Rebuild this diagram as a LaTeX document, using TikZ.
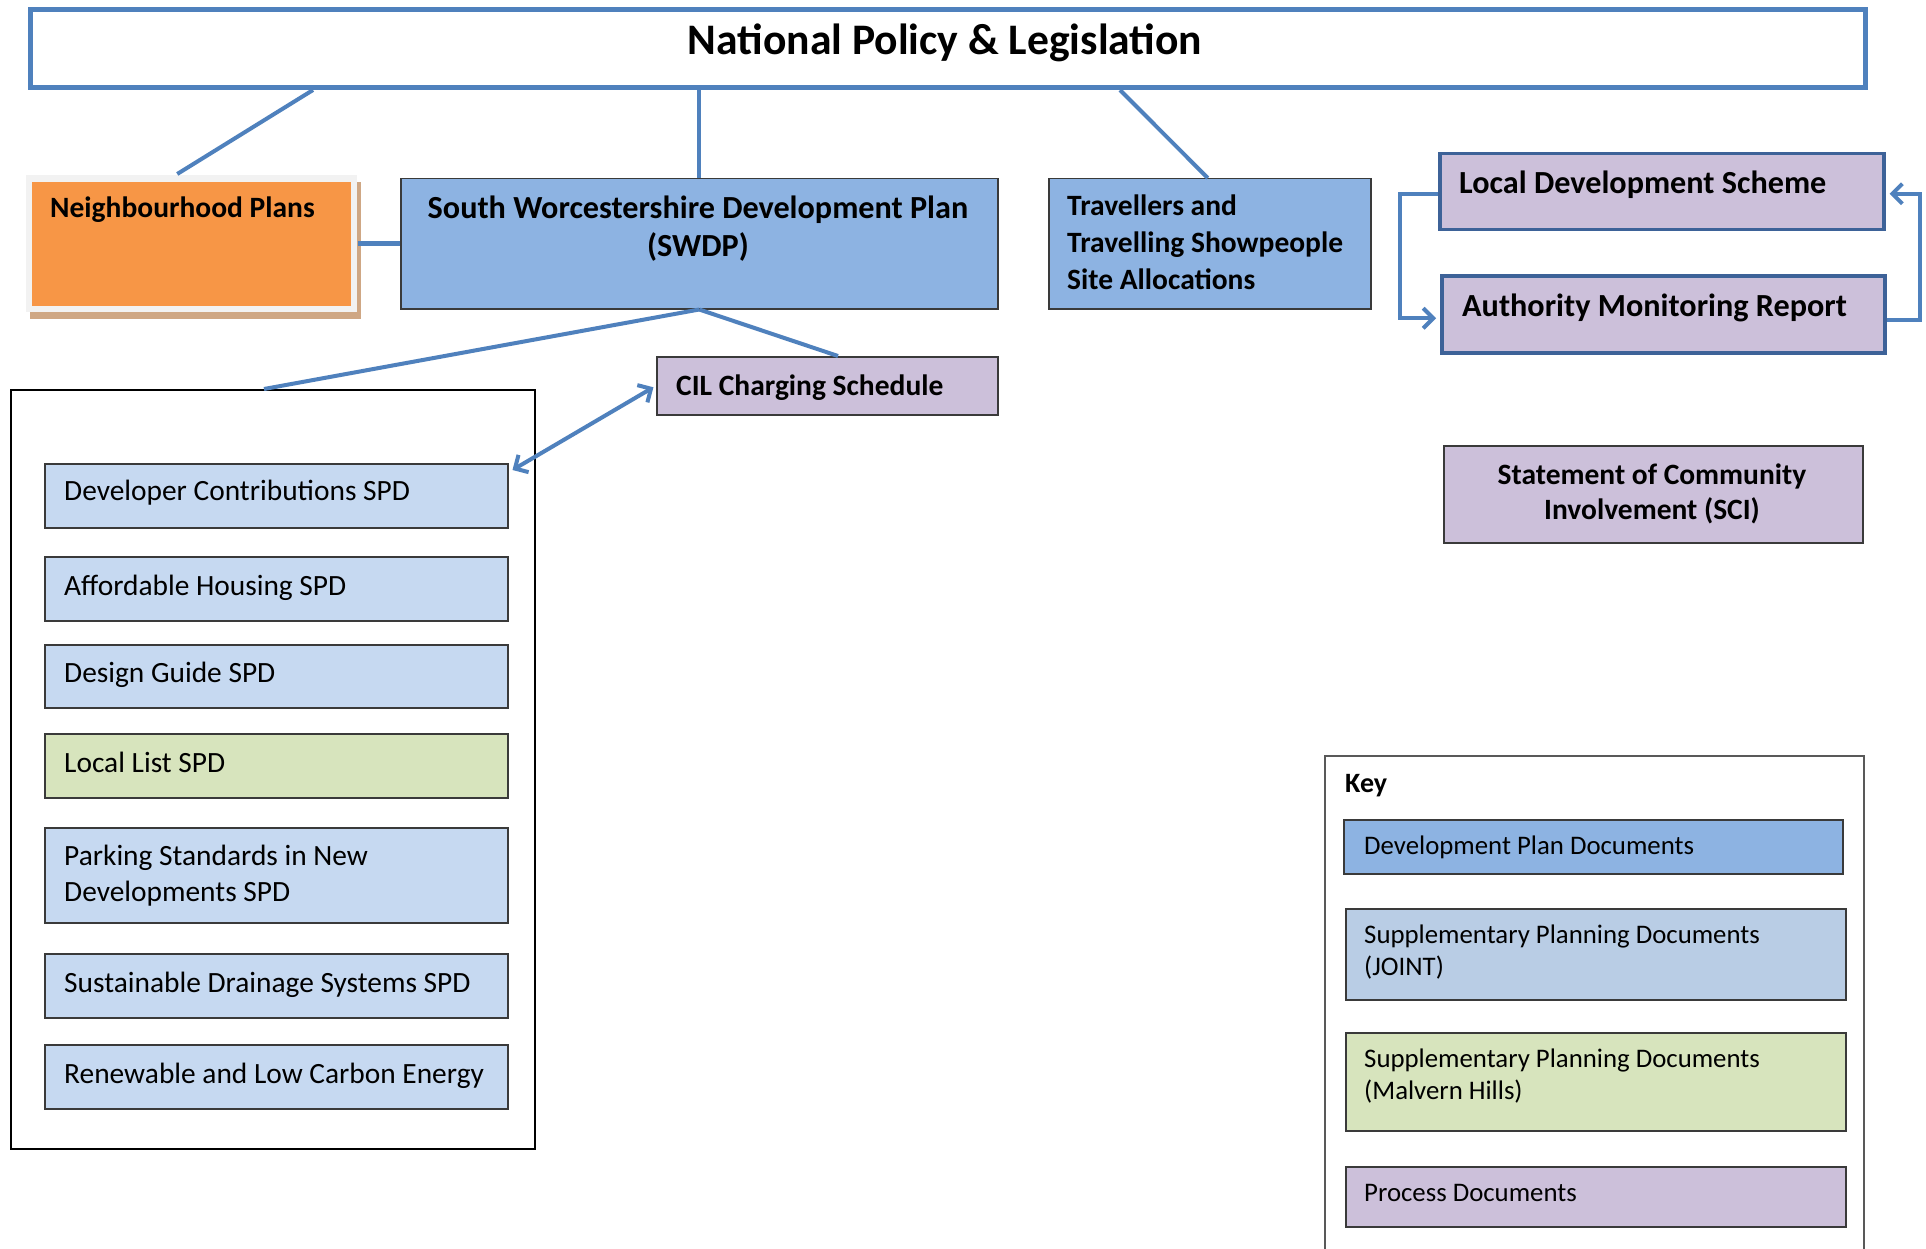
\documentclass[tikz,border=0pt]{standalone}
\usepackage{fontspec}
\setmainfont{Carlito}
\usetikzlibrary{arrows.meta}
\definecolor{lnblue}{HTML}{4F81BD}
\definecolor{dpd}{HTML}{8DB3E2}
\definecolor{spd}{HTML}{C6D9F1}
\definecolor{keyspd}{HTML}{B9CDE5}
\definecolor{grn}{HTML}{D7E4BD}
\definecolor{prp}{HTML}{CCC0DA}
\definecolor{orng}{HTML}{F79646}
\definecolor{bdr}{HTML}{3A3A3A}
\definecolor{ldsb}{HTML}{3D6298}
\definecolor{shad}{HTML}{CFA784}
\definecolor{frm}{HTML}{F2F2F2}
\definecolor{keyb}{HTML}{595959}
\begin{document}
\begin{tikzpicture}[x=1pt,y=-1pt,
  box/.style={draw=bdr, line width=1.5pt, inner sep=0pt, anchor=north west},
  procbox/.style={box, draw=ldsb, line width=3.5pt, fill=prp},
  conn/.style={draw=lnblue, line width=4pt},
  barb/.style={-{Straight Barb[length=10pt,width=20pt]}},
  dbarb/.style={{Straight Barb[length=10pt,width=20pt]}-{Straight Barb[length=10pt,width=20pt]}},
  bt/.style={font=\bfseries\fontsize{29.5}{36}\selectfont, inner sep=0pt, anchor=base west},
  btl/.style={font=\bfseries\fontsize{32.2}{38}\selectfont, inner sep=0pt, anchor=base west},
  rt/.style={font=\fontsize{29.4}{36}\selectfont, inner sep=0pt, anchor=base west},
  kt/.style={font=\fontsize{26.8}{32}\selectfont, inner sep=0pt, anchor=base west}]
\useasboundingbox[fill=white] (0,0) rectangle (1926,1249);

% National
\node[box, draw=lnblue, line width=5pt, fill=white, minimum width=1835pt, minimum height=78pt] (nat) at (28,7) {};
\node[font=\bfseries\fontsize{43.6}{48}\selectfont, inner sep=0pt, anchor=base] (natt) at (945,55) {National Policy \& Legislation};

% Neighbourhood
\node[box, draw=none, fill=shad, minimum width=331pt, minimum height=137pt] (nps) at (29,181) {};
\node[box, draw=none, fill=frm, minimum width=331pt, minimum height=137pt] (np) at (25,174) {};
\node[box, draw=none, fill=orng, minimum width=319pt, minimum height=124pt] (npi) at (31,181) {};
\node[bt] (npt) at (50,218) {Neighbourhood Plans};

% SWDP
\node[box, fill=dpd, minimum width=597pt, minimum height=130pt] (swdp) at (400,178) {};
\node[btl, anchor=base] (swdpt1) at (698,219) {South Worcestershire Development Plan};
\node[btl, anchor=base] (swdpt2) at (698,257) {(SWDP)};

% Travellers
\node[box, fill=dpd, minimum width=322pt, minimum height=130pt] (trav) at (1048,178) {};
\node[bt] (travt1) at (1067,216) {Travellers and};
\node[bt] (travt2) at (1067,253) {Travelling Showpeople};
\node[bt] (travt3) at (1067,289) {Site Allocations};

% LDS / AMR
\node[procbox, minimum width=444pt, minimum height=76pt] (lds) at (1438,152) {};
\node[btl] (ldst) at (1459,194) {Local Development Scheme};
\node[procbox, minimum width=443pt, minimum height=77pt] (amr) at (1440,274) {};
\node[btl] (amrt) at (1462,316) {Authority Monitoring Report};

% CIL
\node[box, fill=prp, minimum width=341pt, minimum height=58pt] (cil) at (656,356) {};
\node[bt] (cilt) at (676,395) {CIL Charging Schedule};

% SCI
\node[box, fill=prp, minimum width=419pt, minimum height=97pt] (sci) at (1443,445) {};
\node[bt, anchor=base] (scit1) at (1652,484) {Statement of Community};
\node[bt, anchor=base] (scit2) at (1652,519) {Involvement (SCI)};

% SPD container
\node[box, draw=black, line width=2pt, minimum width=524pt, minimum height=759pt] (cont) at (10,389) {};
\node[box, fill=spd, minimum width=463pt, minimum height=64pt] (dc) at (44,463) {};
\node[rt] (dct) at (64,500) {Developer Contributions SPD};
\node[box, fill=spd, minimum width=463pt, minimum height=64pt] (ah) at (44,556) {};
\node[rt] (aht) at (64,595) {Affordable Housing SPD};
\node[box, fill=spd, minimum width=463pt, minimum height=63pt] (dg) at (44,644) {};
\node[rt] (dgt) at (64,682) {Design Guide SPD};
\node[box, fill=grn, minimum width=463pt, minimum height=64pt] (ll) at (44,733) {};
\node[rt] (llt) at (64,772) {Local List SPD};
\node[box, fill=spd, minimum width=463pt, minimum height=95pt] (ps) at (44,827) {};
\node[rt] (pst1) at (64,865) {Parking Standards in New};
\node[rt] (pst2) at (64,901) {Developments SPD};
\node[box, fill=spd, minimum width=463pt, minimum height=64pt] (sd) at (44,953) {};
\node[rt] (sdt) at (64,992) {Sustainable Drainage Systems SPD};
\node[box, fill=spd, minimum width=463pt, minimum height=64pt] (re) at (44,1044) {};
\node[rt] (ret) at (64,1083) {Renewable and Low Carbon Energy};

% Key
\node[box, draw=keyb, line width=1.5pt, fill=white, minimum width=539pt, minimum height=530pt] (key) at (1324,755) {};
\node[kt, font=\bfseries\fontsize{28}{32}\selectfont] (keyt) at (1345,792) {Key};
\node[box, fill=dpd, minimum width=499pt, minimum height=54pt] (k1) at (1343,819) {};
\node[kt] (k1t) at (1364,854) {Development Plan Documents};
\node[box, fill=keyspd, minimum width=500pt, minimum height=91pt] (k2) at (1345,908) {};
\node[kt] (k2t1) at (1364,943) {Supplementary Planning Documents};
\node[kt] (k2t2) at (1364,975) {(JOINT)};
\node[box, fill=grn, minimum width=500pt, minimum height=98pt] (k3) at (1345,1032) {};
\node[kt] (k3t1) at (1364,1067) {Supplementary Planning Documents};
\node[kt] (k3t2) at (1364,1099) {(Malvern Hills)};
\node[box, fill=prp, minimum width=500pt, minimum height=60pt] (k4) at (1345,1166) {};
\node[kt] (k4t) at (1364,1201) {Process Documents};

% connectors
\coordinate (c1) at (313,0);
\coordinate (c2) at (1120,0);
\coordinate (c3) at (264,0);
\coordinate (c4) at (838,0);
\draw[conn] (nat.south -| c1) -- ([xshift=-14pt]np.north);
\draw[conn] (nat.south -| swdp.north) -- (swdp.north);
\draw[conn] (nat.south -| c2) -- ([xshift=-2pt]trav.north);
\draw[conn, line width=5pt] (np.east) -- (np.east -| swdp.west);
\draw[conn] (swdp.south) -- (cont.north -| c3);
\draw[conn] (swdp.south) -- (cil.north -| c4);
\draw[conn, dbarb, shorten <=3pt] (cil.west) -- ([shift={(4,7)}]dc.north east);
\draw[conn, barb, shorten >=4pt] ([yshift=-2pt]lds.west) -- ++(-38,0) |- ([yshift=-4pt]amr.west);
\draw[conn, barb, shorten >=4pt] ([yshift=-6pt]amr.east) -- ++(33,0) |- ([yshift=-2pt]lds.east);
\end{tikzpicture}
\end{document}
